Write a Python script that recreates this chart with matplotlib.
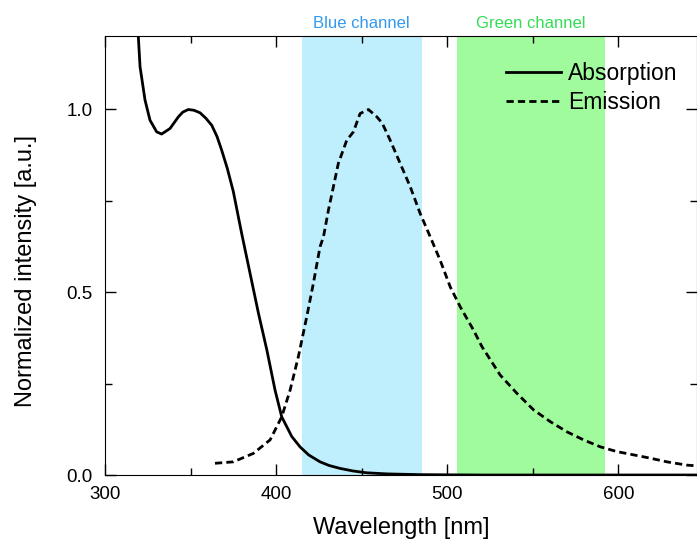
import matplotlib
matplotlib.use('Agg')
import matplotlib.pyplot as plt
from matplotlib.ticker import MultipleLocator

plt.rcParams['font.family'] = ['Liberation Sans', 'DejaVu Sans']

# absorption spectrum
abs_nm = [318, 319.5, 320.5, 323.4, 326.3, 330.2, 333.1, 338, 342.9, 345.5,
          348.7, 352, 355.6, 359, 362.4, 365.5, 368.2, 371.5, 375, 379.9,
          384.8, 389.7, 394.6, 399.4, 403.3, 409.2, 414, 419, 425.7, 431,
          437.4, 445, 453, 465, 484, 520, 560, 600, 646]
abs_val = [1.26, 1.198, 1.116, 1.025, 0.970, 0.938, 0.932, 0.947, 0.979, 0.992,
           0.999, 0.997, 0.990, 0.975, 0.956, 0.925, 0.888, 0.838, 0.775, 0.660,
           0.551, 0.442, 0.342, 0.232, 0.159, 0.105, 0.077, 0.055, 0.036, 0.026,
           0.018, 0.011, 0.006, 0.003, 0.001, 0.0, 0.0, 0.0, 0.0]

# emission spectrum
em_nm = [364.3, 375, 386.7, 396.5, 403.3, 408.2, 413, 417.9, 421.8, 425.7,
         427.7, 430.6, 433.5, 436.4, 441.3, 445.2, 449.1, 454.0, 458.9, 462,
         466.7, 472.5, 478.4, 484.2, 490.1, 495.9, 501.8, 507.6, 515.4, 520.3,
         531, 540.8, 550.5, 560.2, 570, 579.7, 589.5, 599.2, 609, 618.7,
         628.4, 640.1, 646]
em_val = [0.032, 0.036, 0.059, 0.096, 0.159, 0.232, 0.323, 0.432, 0.524, 0.624,
          0.651, 0.724, 0.788, 0.852, 0.915, 0.938, 0.988, 0.999, 0.979, 0.962,
          0.915, 0.852, 0.788, 0.715, 0.651, 0.587, 0.514, 0.460, 0.396, 0.351,
          0.273, 0.223, 0.178, 0.146, 0.118, 0.096, 0.077, 0.064, 0.055, 0.046,
          0.036, 0.027, 0.025]

# detection channels
blue_band = (415, 485)
green_band = (506, 592)

fig = plt.figure(figsize=(6.97, 5.42), dpi=100)
ax = fig.add_axes([0.1506, 0.1236, 0.8494, 0.81])

ax.axvspan(blue_band[0], blue_band[1], color='#bfeefc', lw=0, zorder=0)
ax.axvspan(green_band[0], green_band[1], color='#a0fb9c', lw=0, zorder=0)

ax.plot(abs_nm, abs_val, color='black', lw=2.0, label='Absorption',
        solid_joinstyle='round')
ax.plot(em_nm, em_val, color='black', lw=2.0, ls=(0, (2.6, 1.5)), label='Emission')

ax.text(sum(blue_band) / 2, 1.215, 'Blue channel', color='#3399ee', fontsize=12,
        ha='center', va='bottom')
ax.text(sum(green_band) / 2, 1.215, 'Green channel', color='#33dd55', fontsize=12,
        ha='center', va='bottom')

ax.set_xlim(300, 646)
ax.set_ylim(0, 1.2)
ax.set_xticks([300, 400, 500, 600])
ax.set_yticks([0.0, 0.5, 1.0])
ax.set_yticklabels(['0.0', '0.5', '1.0'])
ax.xaxis.set_minor_locator(MultipleLocator(50))
ax.yaxis.set_minor_locator(MultipleLocator(0.25))
ax.tick_params(which='both', direction='in', top=True, right=True, labelsize=13.5)
ax.tick_params(which='major', length=8, width=1)
ax.tick_params(which='minor', length=5, width=1)
ax.tick_params(axis='x', pad=8)
ax.tick_params(axis='y', pad=9)

ax.set_xlabel('Wavelength [nm]', fontsize=17, labelpad=10)
ax.set_ylabel('Normalized intensity [a.u.]', fontsize=17)
ax.yaxis.set_label_coords(-0.115, 0.465)

ax.legend(loc='upper left', bbox_to_anchor=(0.678, 0.94), frameon=False,
          fontsize=16.5, handlelength=2.4, handletextpad=0.3, borderpad=0,
          borderaxespad=0, labelspacing=0.25)

fig.savefig('out.png', dpi=100)
